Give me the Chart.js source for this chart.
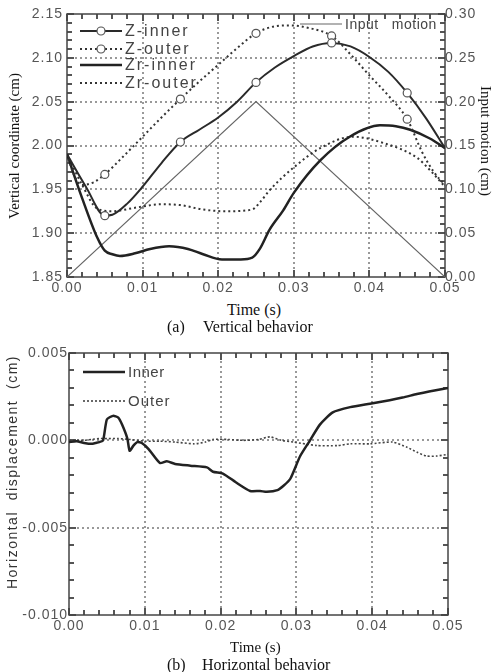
<!DOCTYPE html>
<html>
<head>
<meta charset="utf-8">
<script src="https://cdn.jsdelivr.net/npm/chart.js@4.4.1/dist/chart.umd.min.js"></script>
<style>
body { margin: 0; background: #fff; }
#wrap { position: relative; width: 499px; height: 672px; overflow: hidden; }
canvas { position: absolute; left: 0; }
.t { position: absolute; white-space: nowrap; color: #111; font-family: "Liberation Serif", "Times New Roman", serif; line-height: 16px; }
</style>
</head>
<body>
<div id="wrap">
  <canvas id="topChart" width="499" height="300" style="top:0"></canvas>
  <canvas id="botChart" width="499" height="310" style="top:330px"></canvas>

  <div class="t" style="left:14px;top:146px;font-size:15px;transform:translate(-50%,-50%) rotate(-90deg)">Vertical coordinate (cm)</div>
  <div class="t" style="left:486px;top:141px;font-size:15px;transform:translate(-50%,-50%) rotate(90deg)">Input motion (cm)</div>
  <div class="t" style="left:227px;top:302px;font-size:16px">Time (s)</div>
  <div class="t" style="left:167px;top:319px;font-size:16px">(a)</div>
  <div class="t" style="left:203px;top:319px;font-size:16px">Vertical behavior</div>

  <div class="t" style="left:12px;top:472px;font-size:14px;letter-spacing:1.5px;color:#333;font-family:'Liberation Sans',Arial,sans-serif;transform:translate(-50%,-50%) rotate(-90deg)">Horizontal&nbsp; displacement&nbsp; (cm)</div>
  <div class="t" style="left:230px;top:639px;font-size:15px">Time (s)</div>
  <div class="t" style="left:167px;top:657px;font-size:16px">(b)</div>
  <div class="t" style="left:202px;top:657px;font-size:16px">Horizontal behavior</div>
</div>
<script>
// (a) vertical behavior -- time (s) and vertical coordinate (cm)
const tZin = [0, 0.0025, 0.005, 0.006, 0.008, 0.010, 0.0125, 0.015, 0.0175, 0.020, 0.0225, 0.025, 0.0275, 0.030, 0.0325, 0.035, 0.0375, 0.040, 0.0425, 0.045, 0.0475, 0.050];
const zInner = [1.990, 1.953, 1.920, 1.921, 1.934, 1.953, 1.980, 2.004, 2.018, 2.032, 2.050, 2.072, 2.089, 2.102, 2.113, 2.117, 2.113, 2.101, 2.084, 2.060, 2.031, 1.997];

const tZout = [0, 0.001, 0.002, 0.0035, 0.005, 0.0075, 0.010, 0.0125, 0.015, 0.0175, 0.020, 0.0225, 0.025, 0.0275, 0.0295, 0.032, 0.035, 0.0375, 0.040, 0.0425, 0.045, 0.047, 0.0485, 0.050];
const zOuter = [1.990, 1.965, 1.955, 1.958, 1.967, 1.988, 2.010, 2.032, 2.053, 2.073, 2.092, 2.111, 2.128, 2.136, 2.137, 2.134, 2.125, 2.104, 2.080, 2.057, 2.030, 1.992, 1.970, 1.955];

const tZrin = [0, 0.002, 0.004, 0.005, 0.006, 0.007, 0.009, 0.011, 0.0135, 0.016, 0.018, 0.0205, 0.023, 0.0245, 0.0255, 0.0268, 0.0286, 0.030, 0.0335, 0.0374, 0.0414, 0.0435, 0.0454, 0.048, 0.050];
const zrInner = [1.990, 1.940, 1.895, 1.880, 1.876, 1.874, 1.877, 1.882, 1.885, 1.882, 1.876, 1.870, 1.870, 1.872, 1.882, 1.904, 1.926, 1.946, 1.983, 2.010, 2.023, 2.022, 2.018, 2.008, 1.997];

const tZrout = [0, 0.002, 0.004, 0.006, 0.009, 0.0125, 0.015, 0.018, 0.021, 0.0245, 0.0255, 0.0268, 0.030, 0.0335, 0.0378, 0.0418, 0.0463, 0.048, 0.050];
const zrOuter = [1.990, 1.955, 1.928, 1.925, 1.929, 1.933, 1.932, 1.927, 1.925, 1.927, 1.935, 1.949, 1.975, 1.997, 2.010, 2.003, 1.986, 1.972, 1.953];

const tInput = [0, 0.025, 0.050];
const inputMotion = [0, 0.20, 0];

// times where the open circle markers sit
const markT = [0.005, 0.015, 0.025, 0.035, 0.045];

// (b) horizontal behavior -- displacement (cm)
const tInner = [0, 0.001, 0.002, 0.003, 0.0035, 0.004, 0.0045, 0.005, 0.0058, 0.0065, 0.007, 0.0077, 0.008, 0.0085, 0.009, 0.0096, 0.0105, 0.012, 0.0129, 0.014, 0.016, 0.0182, 0.019, 0.0203, 0.022, 0.0239, 0.0252, 0.0261, 0.0275, 0.0283, 0.0292, 0.0305, 0.0318, 0.0331, 0.0348, 0.0371, 0.0397, 0.0423, 0.044, 0.0459, 0.0475, 0.050];
const hInner = [-0.0001, -0.00005, -0.00015, -0.0002, -0.00015, -0.0001, 0.0, 0.0012, 0.0014, 0.0013, 0.0009, 0.0001, -0.0006, -0.0003, -0.0001, -0.00015, -0.0005, -0.0013, -0.0012, -0.00135, -0.00145, -0.00155, -0.0018, -0.0019, -0.0024, -0.0029, -0.0029, -0.00295, -0.00285, -0.0026, -0.0022, -0.0009, 0.0, 0.0009, 0.0016, 0.0019, 0.0021, 0.0023, 0.00245, 0.00265, 0.0028, 0.0030];

const tOuter = [0, 0.002, 0.003, 0.004, 0.005, 0.0065, 0.008, 0.010, 0.012, 0.014, 0.0165, 0.018, 0.019, 0.021, 0.023, 0.025, 0.0265, 0.028, 0.0296, 0.0327, 0.0354, 0.0371, 0.0397, 0.0427, 0.0446, 0.046, 0.0472, 0.0485, 0.050];
const hOuter = [0, 0, 0.00005, 0.0001, 0.0001, 0.0001, 0.00005, -0.00005, -0.00005, -0.0001, -0.0002, -0.0001, 0.00005, 0.00005, 0, 0.00005, 0.0002, 0, -0.0001, -0.0003, -0.0003, -0.0002, -0.0002, -0.0001, -0.0004, -0.0007, -0.0009, -0.0009, -0.0008];

const pts = (t, v) => t.map((x, i) => ({x: x, y: v[i]}));

const tickFont = {family: "'Liberation Sans', Arial, sans-serif", size: 14};
const tickColor = '#555';

// dotted grid at the scale ticks, frame round the plot, small inward ticks
const frameTicks = {
  id: 'frameTicks',
  beforeDraw(chart) {
    chart.ctx.letterSpacing = '1px';
  },
  beforeDatasetsDraw(chart, args, opts) {
    const ctx = chart.ctx, a = chart.chartArea;
    const xs = chart.scales.x, ys = chart.scales.y;
    ctx.save();
    // grid dots
    ctx.fillStyle = '#999';
    xs.ticks.forEach(t => {
      if (t.value <= xs.min || t.value >= xs.max) return;
      const p = Math.round(xs.getPixelForValue(t.value));
      for (let y = a.top + 3; y < a.bottom - 2; y += 5) ctx.fillRect(p - 1, y, 2, 2);
    });
    ys.ticks.forEach(t => {
      if (t.value <= ys.min || t.value >= ys.max) return;
      const p = Math.round(ys.getPixelForValue(t.value));
      for (let x = a.left + 3; x < a.right - 2; x += 5) ctx.fillRect(x, p - 1, 2, 2);
    });
    // minor / major ticks on the four edges
    ctx.strokeStyle = '#555';
    ctx.lineWidth = 2;
    ctx.beginPath();
    let k = 0;
    for (let v = xs.min; v <= xs.max + 1e-9; v += opts.xStep, k++) {
      const p = Math.round(xs.getPixelForValue(v));
      const len = k % opts.xEvery == 0 ? 7 : 5;
      ctx.moveTo(p, a.top); ctx.lineTo(p, a.top + len);
      ctx.moveTo(p, a.bottom); ctx.lineTo(p, a.bottom - len);
    }
    k = 0;
    for (let v = ys.min; v <= ys.max + 1e-9; v += opts.yStep, k++) {
      const p = Math.round(ys.getPixelForValue(v));
      const len = k % opts.yEvery == 0 ? 7 : 5;
      ctx.moveTo(a.left, p); ctx.lineTo(a.left + len, p);
      ctx.moveTo(a.right, p); ctx.lineTo(a.right - len, p);
    }
    ctx.stroke();
    ctx.strokeStyle = '#444';
    ctx.lineWidth = 1.5;
    ctx.strokeRect(a.left, a.top, a.right - a.left, a.bottom - a.top);
    ctx.restore();
  }
};

// legend drawn inside the plot area
const insideLegend = {
  id: 'insideLegend',
  afterDatasetsDraw(chart, args, opts) {
    const ctx = chart.ctx, a = chart.chartArea;
    opts.items.forEach(it => {
      const ds = chart.data.datasets[it.ds];
      const x0 = a.left + it.dx, y = a.top + it.dy;
      ctx.save();
      ctx.strokeStyle = ds.borderColor;
      ctx.lineWidth = ds.borderWidth;
      ctx.setLineDash(ds.borderDash || []);
      ctx.beginPath();
      ctx.moveTo(x0, y);
      ctx.lineTo(x0 + it.len, y);
      ctx.stroke();
      ctx.setLineDash([]);
      if (it.marker) {
        ctx.beginPath();
        ctx.arc(x0 + it.len / 2, y, 4, 0, Math.PI * 2);
        ctx.fillStyle = '#fff';
        ctx.fill();
        ctx.lineWidth = 1.2;
        ctx.strokeStyle = '#555';
        ctx.stroke();
      }
      ctx.fillStyle = '#444';
      ctx.font = it.font;
      ctx.letterSpacing = it.spacing;
      ctx.textBaseline = 'middle';
      ctx.fillText(it.text || ds.label, x0 + it.len + 3, y + 1);
      ctx.restore();
    });
  }
};

function axisX(h, pad) {
  return {
    type: 'linear', min: 0, max: 0.05,
    ticks: {stepSize: 0.01, padding: pad, color: tickColor, font: tickFont, maxRotation: 0, autoSkip: false,
            callback: v => v.toFixed(2)},
    grid: {display: false, drawTicks: false},
    border: {display: false},
    afterFit: s => { s.height = h; }
  };
}

const markerRadius = c => (c.raw && markT.includes(c.raw.x)) ? 4 : 0;

new Chart(document.getElementById('topChart'), {
  type: 'line',
  data: {
    datasets: [
      {label: 'Z-inner', data: pts(tZin, zInner), borderColor: '#2a2a2a', borderWidth: 2, cubicInterpolationMode: 'monotone',
       pointRadius: markerRadius, pointBackgroundColor: '#fff', pointBorderColor: '#555', pointBorderWidth: 1.2, yAxisID: 'y'},
      {label: 'Z-outer', data: pts(tZout, zOuter), borderColor: '#333', borderWidth: 2, borderDash: [2, 3], cubicInterpolationMode: 'monotone',
       pointRadius: markerRadius, pointBackgroundColor: '#fff', pointBorderColor: '#555', pointBorderWidth: 1.2, yAxisID: 'y'},
      {label: 'Zr-inner', data: pts(tZrin, zrInner), borderColor: '#222', borderWidth: 2.5, cubicInterpolationMode: 'monotone',
       pointRadius: 0, yAxisID: 'y'},
      {label: 'Zr-outer', data: pts(tZrout, zrOuter), borderColor: '#333', borderWidth: 2, borderDash: [2, 3], cubicInterpolationMode: 'monotone',
       pointRadius: 0, yAxisID: 'y'},
      {label: 'Input   motion', data: pts(tInput, inputMotion), borderColor: '#666', borderWidth: 1.2, tension: 0,
       pointRadius: 0, yAxisID: 'y2'}
    ]
  },
  options: {
    responsive: false,
    animation: false,
    events: [],
    layout: {padding: {top: 14, left: 0, right: 0, bottom: 0}},
    plugins: {
      legend: {display: false},
      tooltip: {enabled: false},
      frameTicks: {xStep: 0.002, xEvery: 5, yStep: 0.01, yEvery: 5},
      insideLegend: {items: [
        {ds: 0, dx: 13, dy: 17, len: 42, marker: true, font: "16px 'Liberation Sans', Arial", spacing: '2px'},
        {ds: 1, dx: 13, dy: 35, len: 42, marker: true, font: "16px 'Liberation Sans', Arial", spacing: '2px'},
        {ds: 2, dx: 13, dy: 51, len: 42, font: "16px 'Liberation Sans', Arial", spacing: '2px'},
        {ds: 3, dx: 13, dy: 69, len: 42, font: "16px 'Liberation Sans', Arial", spacing: '2px'},
        {ds: 4, dx: 233, dy: 10, len: 42, font: "14px 'Liberation Sans', Arial", spacing: '0.5px'}
      ]}
    },
    scales: {
      x: axisX(23, 3),
      y: {position: 'left', min: 1.85, max: 2.15,
          ticks: {stepSize: 0.05, padding: 4, color: tickColor, font: tickFont, callback: v => v.toFixed(2)},
          grid: {display: false, drawTicks: false},
          border: {display: false},
          afterFit: s => { s.width = 67; }},
      y2: {position: 'right', min: 0, max: 0.30,
           ticks: {stepSize: 0.05, padding: 0, color: tickColor, font: tickFont, callback: v => v.toFixed(2)},
           grid: {display: false, drawTicks: false},
           border: {display: false},
           afterFit: s => { s.width = 54; }}
    }
  },
  plugins: [frameTicks, insideLegend]
});

new Chart(document.getElementById('botChart'), {
  type: 'line',
  data: {
    datasets: [
      {label: 'Inner', data: pts(tInner, hInner), borderColor: '#222', borderWidth: 2.5, tension: 0.2, pointRadius: 0},
      {label: 'Outer', data: pts(tOuter, hOuter), borderColor: '#444', borderWidth: 1.6, borderDash: [2, 2], tension: 0.2, pointRadius: 0}
    ]
  },
  options: {
    responsive: false,
    animation: false,
    events: [],
    layout: {padding: {top: 23, left: 0, right: 51, bottom: 0}},
    plugins: {
      legend: {display: false},
      tooltip: {enabled: false},
      frameTicks: {xStep: 0.002, xEvery: 5, yStep: 0.001, yEvery: 5},
      insideLegend: {items: [
        {ds: 0, dx: 14, dy: 19, len: 42, font: "15px 'Liberation Sans', Arial", spacing: '0.5px'},
        {ds: 1, dx: 14, dy: 48, len: 42, font: "15px 'Liberation Sans', Arial", spacing: '1px'}
      ]}
    },
    scales: {
      x: axisX(25, 3),
      y: {position: 'left', min: -0.010, max: 0.005,
          ticks: {stepSize: 0.005, padding: 1, color: tickColor, font: tickFont,
                  callback: v => Math.abs(v) < 1e-9 ? '0.000' : v.toFixed(3)},
          grid: {display: false, drawTicks: false},
          border: {display: false},
          afterFit: s => { s.width = 69; }},
    }
  },
  plugins: [frameTicks, insideLegend]
});
</script>
</body>
</html>
